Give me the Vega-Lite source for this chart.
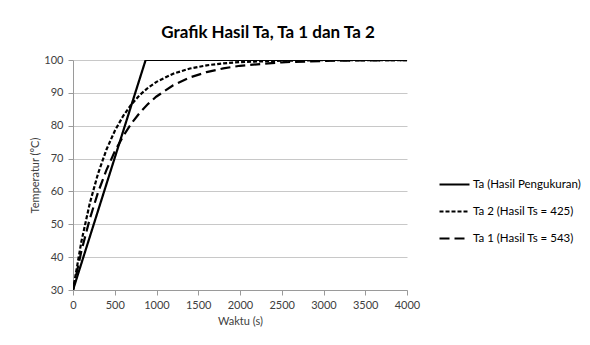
{
  "$schema": "https://vega.github.io/schema/vega-lite/v6.json",
  "autosize": {"type": "none"},
  "width": 334,
  "height": 230,
  "padding": {"left": 73, "top": 60, "right": 183, "bottom": 55},
  "background": "white",
  "title": {
    "text": "Grafik Hasil Ta, Ta 1 dan Ta 2",
    "font": "Lato",
    "fontSize": 17,
    "fontWeight": "bold",
    "color": "#000000",
    "anchor": "middle",
    "frame": "group",
    "dx": 28,
    "offset": 12
  },
  "data": {
    "values": [
      {"series": "Ta (Hasil Pengukuran)", "t": 0, "temp": 30},
      {"series": "Ta (Hasil Pengukuran)", "t": 870, "temp": 100},
      {"series": "Ta (Hasil Pengukuran)", "t": 4000, "temp": 100},
      {"series": "Ta 2 (Hasil Ts = 425)", "t": 0, "temp": 30},
      {"series": "Ta 2 (Hasil Ts = 425)", "t": 100, "temp": 44.68},
      {"series": "Ta 2 (Hasil Ts = 425)", "t": 200, "temp": 56.28},
      {"series": "Ta 2 (Hasil Ts = 425)", "t": 300, "temp": 65.44},
      {"series": "Ta 2 (Hasil Ts = 425)", "t": 400, "temp": 72.69},
      {"series": "Ta 2 (Hasil Ts = 425)", "t": 500, "temp": 78.41},
      {"series": "Ta 2 (Hasil Ts = 425)", "t": 600, "temp": 82.94},
      {"series": "Ta 2 (Hasil Ts = 425)", "t": 700, "temp": 86.52},
      {"series": "Ta 2 (Hasil Ts = 425)", "t": 800, "temp": 89.35},
      {"series": "Ta 2 (Hasil Ts = 425)", "t": 900, "temp": 91.58},
      {"series": "Ta 2 (Hasil Ts = 425)", "t": 1000, "temp": 93.34},
      {"series": "Ta 2 (Hasil Ts = 425)", "t": 1200, "temp": 95.84},
      {"series": "Ta 2 (Hasil Ts = 425)", "t": 1400, "temp": 97.40},
      {"series": "Ta 2 (Hasil Ts = 425)", "t": 1600, "temp": 98.38},
      {"series": "Ta 2 (Hasil Ts = 425)", "t": 1800, "temp": 98.99},
      {"series": "Ta 2 (Hasil Ts = 425)", "t": 2000, "temp": 99.37},
      {"series": "Ta 2 (Hasil Ts = 425)", "t": 2500, "temp": 99.80},
      {"series": "Ta 2 (Hasil Ts = 425)", "t": 3000, "temp": 99.94},
      {"series": "Ta 2 (Hasil Ts = 425)", "t": 3500, "temp": 99.98},
      {"series": "Ta 2 (Hasil Ts = 425)", "t": 4000, "temp": 99.99},
      {"series": "Ta 1 (Hasil Ts = 543)", "t": 0, "temp": 30},
      {"series": "Ta 1 (Hasil Ts = 543)", "t": 100, "temp": 41.77},
      {"series": "Ta 1 (Hasil Ts = 543)", "t": 200, "temp": 51.57},
      {"series": "Ta 1 (Hasil Ts = 543)", "t": 300, "temp": 59.71},
      {"series": "Ta 1 (Hasil Ts = 543)", "t": 400, "temp": 66.49},
      {"series": "Ta 1 (Hasil Ts = 543)", "t": 500, "temp": 72.13},
      {"series": "Ta 1 (Hasil Ts = 543)", "t": 600, "temp": 76.81},
      {"series": "Ta 1 (Hasil Ts = 543)", "t": 700, "temp": 80.71},
      {"series": "Ta 1 (Hasil Ts = 543)", "t": 800, "temp": 83.96},
      {"series": "Ta 1 (Hasil Ts = 543)", "t": 900, "temp": 86.66},
      {"series": "Ta 1 (Hasil Ts = 543)", "t": 1000, "temp": 88.90},
      {"series": "Ta 1 (Hasil Ts = 543)", "t": 1200, "temp": 92.32},
      {"series": "Ta 1 (Hasil Ts = 543)", "t": 1400, "temp": 94.69},
      {"series": "Ta 1 (Hasil Ts = 543)", "t": 1600, "temp": 96.32},
      {"series": "Ta 1 (Hasil Ts = 543)", "t": 1800, "temp": 97.46},
      {"series": "Ta 1 (Hasil Ts = 543)", "t": 2000, "temp": 98.24},
      {"series": "Ta 1 (Hasil Ts = 543)", "t": 2500, "temp": 99.30},
      {"series": "Ta 1 (Hasil Ts = 543)", "t": 3000, "temp": 99.72},
      {"series": "Ta 1 (Hasil Ts = 543)", "t": 3500, "temp": 99.89},
      {"series": "Ta 1 (Hasil Ts = 543)", "t": 4000, "temp": 99.96}
    ]
  },
  "mark": {"type": "line", "color": "#000000", "strokeWidth": 2.2, "clip": true},
  "encoding": {
    "x": {
      "field": "t",
      "type": "quantitative",
      "scale": {"domain": [0, 4000], "nice": false},
      "axis": {
        "title": "Waktu (s)",
        "values": [0, 500, 1000, 1500, 2000, 2500, 3000, 3500, 4000],
        "format": "d",
        "labelOverlap": false,
        "labelFlush": false,
        "grid": false,
        "tickSize": 5,
        "labelPadding": 4,
        "titlePadding": 5
      }
    },
    "y": {
      "field": "temp",
      "type": "quantitative",
      "scale": {"domain": [30, 100], "nice": false, "zero": false},
      "axis": {
        "title": "Temperatur (°C)",
        "values": [30, 40, 50, 60, 70, 80, 90, 100],
        "labelOverlap": false,
        "labelFlush": false,
        "grid": true,
        "tickSize": 5,
        "labelPadding": 5,
        "titlePadding": 3
      }
    },
    "strokeDash": {
      "field": "series",
      "type": "nominal",
      "scale": {
        "domain": ["Ta (Hasil Pengukuran)", "Ta 2 (Hasil Ts = 425)", "Ta 1 (Hasil Ts = 543)"],
        "range": [[1, 0], [4, 2], [10, 5]]
      },
      "legend": {
        "title": null,
        "orient": "none",
        "legendX": 365,
        "legendY": 108,
        "symbolType": "stroke",
        "symbolSize": 900,
        "symbolStrokeWidth": 2.2,
        "symbolStrokeColor": "#000000",
        "labelOffset": 2,
        "rowPadding": 5,
        "labelFont": "Lato",
        "labelFontSize": 11.5,
        "labelColor": "#000000",
        "labelLimit": 200
      }
    }
  },
  "config": {
    "view": {"stroke": null},
    "axis": {
      "labelFont": "Lato",
      "labelFontSize": 11,
      "labelColor": "#404040",
      "titleFont": "Lato",
      "titleFontSize": 11,
      "titleFontWeight": "normal",
      "titleColor": "#404040",
      "domainColor": "#9a9a9a",
      "tickColor": "#9a9a9a",
      "gridColor": "#c8c8c8",
      "gridWidth": 1
    }
  }
}
